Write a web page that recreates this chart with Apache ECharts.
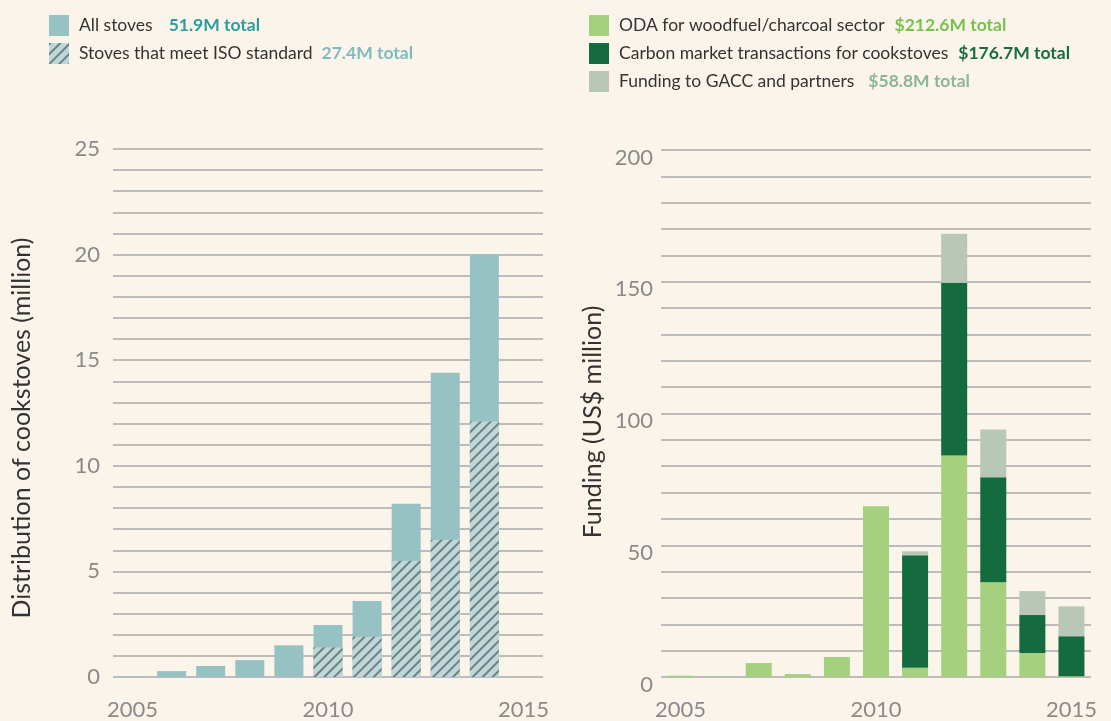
<!DOCTYPE html>
<html>
<head>
<meta charset="utf-8">
<script src="https://cdn.jsdelivr.net/npm/echarts@6/dist/echarts.min.js"></script>
<style>
  html, body { margin: 0; padding: 0; background: #fbf4ea; }
  #chart { width: 1111px; height: 721px; }
</style>
</head>
<body>
<div id="chart"></div>
<script>
// years shared by both panels
const years = ['2005','2006','2007','2008','2009','2010','2011','2012','2013','2014','2015'];

// left panel: cookstove distribution (million)
const allStoves = [0.02, 0.28, 0.52, 0.8, 1.5, 2.46, 3.6, 8.2, 14.4, 20.0, 0];
const isoStoves = [0, 0, 0, 0, 0, 1.4, 1.9, 5.5, 6.5, 12.1, 0];

// right panel: funding (US$ million)
const odaFunding = [0.5, 0.2, 5.3, 1.1, 7.6, 64.8, 3.5, 84.1, 36.0, 9.1, 0.3];
const carbonFunding = [0, 0, 0, 0, 0, 0, 42.7, 65.5, 39.8, 14.4, 15.2];
const gaccFunding = [0, 0, 0, 0, 0, 0, 1.5, 18.6, 18.1, 9.1, 11.3];

const stoveNames = ['All stoves', 'Stoves that meet ISO standard'];
const stoveTotals = ['51.9M total', '27.4M total'];
const fundNames = ['ODA for woodfuel/charcoal sector', 'Carbon market transactions for cookstoves', 'Funding to GACC and partners'];
const fundTotals = ['$212.6M total', '$176.7M total', '$58.8M total'];

const FONT = 'Lato';
const colors = {
  all: '#96c2c3', iso: '#bdd8d8',
  oda: '#a5d17e', carbon: '#146c3e', gacc: '#b9c7b8'
};
const totalColors = ['#2a9d9f', '#7dbcbe', '#78c04c', '#176d3f', '#8db596'];

const chart = echarts.init(document.getElementById('chart'));

function legendFormatter(names, totals, rich) {
  return function (name) {
    const i = names.indexOf(name);
    return '{n|' + name + '}{' + rich[i] + '|' + totals[i] + '}';
  };
}

const richBase = { n: { fontFamily: FONT, fontSize: 17.5, color: '#333', padding: [0, 0, 0, 5] } };
function tot(c, pad) { return { fontFamily: FONT, fontSize: 17.5, fontWeight: 'bold', color: c, padding: [0, 0, 0, pad] }; }

const yLabel = { fontFamily: FONT, fontSize: 22, color: '#8a8a8a' };
const grid = { lineStyle: { color: '#aaa', width: 1.5 } };

const option = {
  backgroundColor: '#fbf4ea',
  animation: false,
  legend: [{
    left: 44, top: 10, orient: 'vertical', icon: 'rect',
    itemWidth: 20, itemHeight: 21, itemGap: 7,
    data: stoveNames,
    formatter: legendFormatter(stoveNames, stoveTotals, ['a', 'b']),
    textStyle: { rich: Object.assign({}, richBase, { a: tot(totalColors[0], 16), b: tot(totalColors[1], 9) }) }
  }, {
    left: 584, top: 10, orient: 'vertical', icon: 'rect',
    itemWidth: 20, itemHeight: 21, itemGap: 7,
    data: fundNames,
    formatter: legendFormatter(fundNames, fundTotals, ['c', 'd', 'e']),
    textStyle: { rich: Object.assign({}, richBase, { c: tot(totalColors[2], 10), d: tot(totalColors[3], 10), e: tot(totalColors[4], 14) }) }
  }],
  grid: [
    { left: 113, right: 568, top: 149, bottom: 43 },
    { left: 661, right: 20, top: 150, bottom: 43 }
  ],
  xAxis: [0, 1].map(i => ({
    type: 'category', gridIndex: i, data: years,
    axisLine: { show: false }, axisTick: { show: false },
    axisLabel: { interval: 4, fontFamily: FONT, fontSize: 22, color: '#8a8a8a', margin: 22 }
  })),
  yAxis: [{
    type: 'value', gridIndex: 0, min: 0, max: 25, interval: 1,
    axisLine: { show: false }, axisTick: { show: false },
    axisLabel: Object.assign({ margin: 13, formatter: v => (v % 5 === 0 ? v : '') }, yLabel),
    splitLine: grid
  }, {
    type: 'value', gridIndex: 1, min: 0, max: 200, interval: 10,
    axisLine: { show: false }, axisTick: { show: false },
    axisLabel: Object.assign({
      margin: 8,
      formatter: v => (v % 50 === 0 ? '{d|' + v + '}' : ''),
      rich: { d: Object.assign({ padding: [15, 0, 0, 0] }, yLabel) }
    }, yLabel),
    splitLine: grid
  }],
  graphic: [{
    type: 'text', x: 22, y: 428, rotation: Math.PI / 2,
    style: { text: 'Distribution of cookstoves (million)', fontFamily: FONT, fontSize: 25, fill: '#333', align: 'center', verticalAlign: 'middle' }
  }, {
    type: 'text', x: 593, y: 422, rotation: Math.PI / 2,
    style: { text: 'Funding (US$ million)', fontFamily: FONT, fontSize: 25, fill: '#333', align: 'center', verticalAlign: 'middle' }
  }],
  series: [{
    name: stoveNames[0], type: 'bar', xAxisIndex: 0, yAxisIndex: 0,
    data: allStoves, barWidth: 29, itemStyle: { color: colors.all }
  }, {
    name: stoveNames[1], type: 'bar', xAxisIndex: 0, yAxisIndex: 0,
    data: isoStoves, barWidth: 29, barGap: '-100%',
    itemStyle: {
      color: colors.iso,
      decal: {
        symbol: 'rect', symbolSize: 1,
        dashArrayX: [1, 0], dashArrayY: [1.2, 5],
        rotation: -Math.PI / 4, color: 'rgba(100,112,115,0.85)'
      }
    }
  }, {
    name: fundNames[0], type: 'bar', stack: 'fund', xAxisIndex: 1, yAxisIndex: 1,
    data: odaFunding, barWidth: 26, itemStyle: { color: colors.oda }
  }, {
    name: fundNames[1], type: 'bar', stack: 'fund', xAxisIndex: 1, yAxisIndex: 1,
    data: carbonFunding, barWidth: 26, itemStyle: { color: colors.carbon }
  }, {
    name: fundNames[2], type: 'bar', stack: 'fund', xAxisIndex: 1, yAxisIndex: 1,
    data: gaccFunding, barWidth: 26, itemStyle: { color: colors.gacc }
  }]
};

chart.setOption(option);
</script>
</body>
</html>
